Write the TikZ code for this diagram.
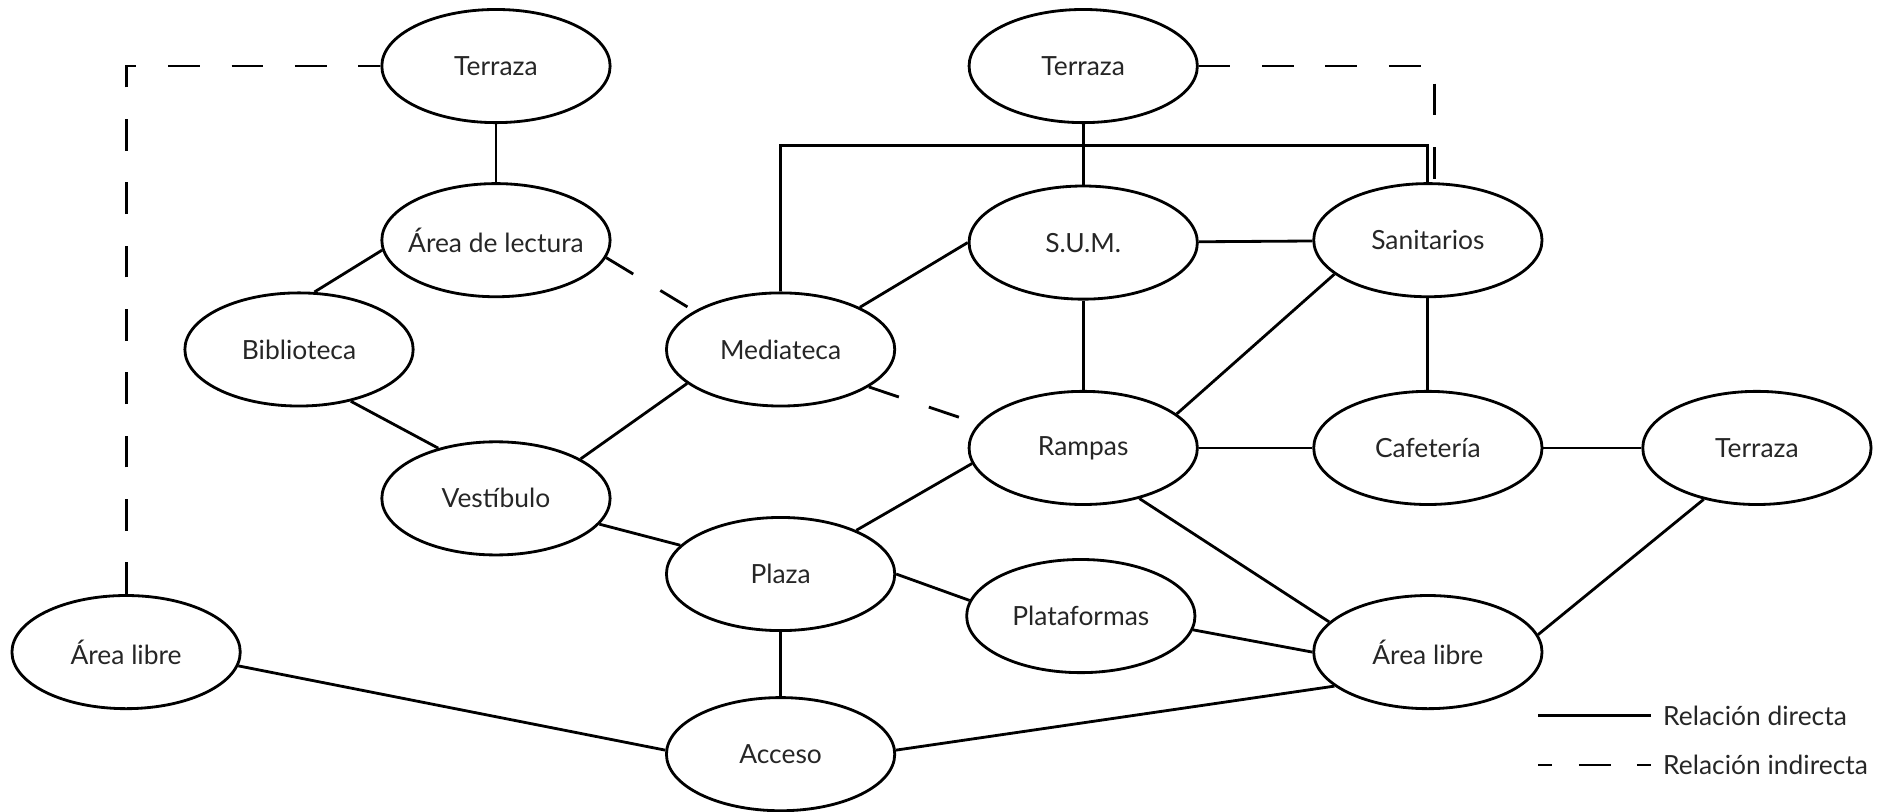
\documentclass[tikz,border=0pt]{standalone}
\usepackage{fontspec}
\setmainfont{Lato}
\usetikzlibrary{shapes.geometric}

\begin{document}
\begin{tikzpicture}[x=0.012cm, y=-0.012cm, line width=0.8pt,
    font=\fontsize{7.5}{9}\selectfont,
    espacio/.style={draw, ellipse, minimum width=2.28cm, minimum height=1.13cm,
        inner xsep=-12pt, inner ysep=0pt, text=black!85},
    indirecta/.style={dash pattern=on 9pt off 9pt}]
    \useasboundingbox (0,0) rectangle (1568,676);

    % Espacios
    \node[espacio] (terrazaA) at (413,55) {Terraza};
    \node[espacio] (lectura) at (413,200) {Área de lectura};
    \node[espacio] (biblioteca) at (249,291) {Biblioteca};
    \node[espacio] (mediateca) at (650,291) {Mediateca};
    \node[espacio] (vestibulo) at (413,415) {Vestíbulo};
    \node[espacio] (plaza) at (650,478) {Plaza};
    \node[espacio] (libreA) at (105,543) {Área libre};
    \node[espacio] (acceso) at (650,628) {Acceso};
    \node[espacio] (terrazaB) at (902,55) {Terraza};
    \node[espacio] (sum) at (902,202) {S.U.M.};
    \node[espacio] (sanitarios) at (1189,200) {Sanitarios};
    \node[espacio] (rampas) at (902,373) {Rampas};
    \node[espacio] (plataformas) at (900,513) {Plataformas};
    \node[espacio] (cafeteria) at (1189,373) {Cafetería};
    \node[espacio] (terrazaC) at (1463,373) {Terraza};
    \node[espacio] (libreB) at (1189,543) {Área libre};

    % Relaciones directas
    \draw (terrazaA) -- (lectura);
    \draw (biblioteca.75) -- (lectura.185);
    \draw (biblioteca.-45) -- (vestibulo.139);
    \draw (vestibulo.25) -- (mediateca.200);
    \draw (vestibulo.-14) -- (plaza.164);
    \draw (mediateca.28) -- (sum.west);
    \draw (plaza.30) -- (rampas.188);
    \draw (plaza.east) -- (plataformas.172);
    \draw (plaza) -- (acceso);
    \draw (libreA.-7) -- (acceso.178);
    \draw (acceso.2) -- (libreB.200);
    \draw (plataformas.-7) -- (libreB.west);
    \draw (rampas.-42) -- (libreB.163);
    \draw (rampas) -- (cafeteria);
    \draw (rampas.20) -- (sanitarios.200);
    \draw (sum) -- (rampas);
    \draw (sum) -- (sanitarios);
    \draw (sanitarios) -- (cafeteria);
    \draw (cafeteria) -- (terrazaC);
    \draw (terrazaC.224) -- (libreB.9);
    \draw (terrazaB) -- (sum);
    \coordinate (bus) at (0,121);
    \draw (mediateca.north) |- (bus -| sanitarios.north) -- (sanitarios.north);

    % Relaciones indirectas
    \draw[indirecta] (libreA.north) |- (terrazaA.west);
    \draw[indirecta] (lectura.-9) -- (mediateca.156);
    \draw[indirecta] (mediateca.-23) -- (rampas.167);
    \draw[indirecta] (terrazaB.east) -| ([xshift=1.9pt]sanitarios.north);

    % Leyenda
    \coordinate (directaA) at (1281,596);
    \node[anchor=west, inner sep=3pt, text=black!85] (directaB) at (1375,596) {Relación directa};
    \draw (directaA) -- (directaB.west);
    \coordinate (indirectaA) at (1281,637);
    \node[anchor=west, inner sep=3pt, text=black!85] (indirectaB) at (1375,637) {Relación indirecta};
    \draw[dash pattern=on 9pt off 7.5pt, dash phase=5pt] (indirectaA) -- (indirectaB.west);
\end{tikzpicture}
\end{document}
